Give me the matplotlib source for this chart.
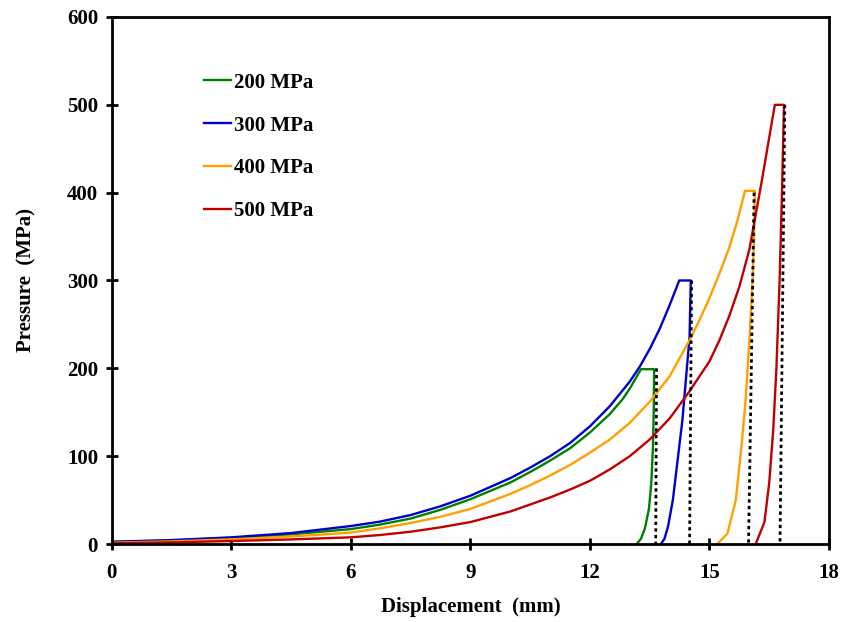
import matplotlib
matplotlib.use("Agg")
import matplotlib.pyplot as plt

# Pressure vs displacement for four target pressures
labels = ['200 MPa', '300 MPa', '400 MPa', '500 MPa']
colors = ['#008000', '#0000CC', '#FFA000', '#C00000']

# loading branch, hold at peak, then unloading branch
disp_200 = [0, 1.5, 3, 4.5, 6, 6.72, 7.5, 8.25, 9, 10, 10.5, 11, 11.5, 12, 12.5, 12.82, 13, 13.28,
            13.61, 13.60, 13.58, 13.54, 13.48, 13.38, 13.28, 13.17]
pres_200 = [2.5, 4, 7, 11, 17, 22, 29, 39, 51, 70, 82, 95, 109, 127, 148, 165, 177, 199,
            199, 150, 110, 70, 40, 18, 6, 0]

disp_300 = [0, 1.5, 3, 4.5, 6, 6.72, 7.5, 8.25, 9, 10, 10.5, 11, 11.5, 12, 12.5, 13, 13.25, 13.5,
            13.75, 14, 14.24,
            14.53, 14.50, 14.32, 14.17, 14.08, 13.96, 13.87, 13.78]
pres_300 = [2.5, 4.5, 7.6, 12.5, 20.5, 25.4, 33, 43, 55, 75, 87, 100, 115, 134, 157, 185, 202, 222,
            245, 272, 300,
            300, 236, 141, 84, 50, 20, 6, 0]

disp_400 = [0, 1.5, 3, 4.5, 6, 6.72, 7.5, 8.25, 9, 10, 10.5, 11, 11.5, 12, 12.5, 13, 13.5, 14, 14.5,
            14.75, 15, 15.25, 15.5, 15.7, 15.89,
            16.14, 16.12, 16.08, 16.0, 15.9, 15.8, 15.66, 15.45, 15.2]
pres_400 = [1.5, 3, 5.3, 8.5, 13, 17.8, 24, 31, 40, 57, 67, 78, 90, 104, 119, 138, 162, 191, 232,
            255, 280, 308, 338, 368, 402,
            402, 350, 300, 230, 160, 110, 50, 12, 0]

disp_500 = [0, 1.5, 3, 4.5, 6, 6.72, 7.5, 8.25, 9, 10, 10.5, 11, 11.5, 12, 12.5, 13, 13.5, 14, 14.5,
            15, 15.25, 15.5, 15.75, 16, 16.3, 16.64,
            16.87, 16.82, 16.76, 16.68, 16.6, 16.5, 16.38, 16.16]
pres_500 = [0.8, 1.8, 3.4, 5.2, 7.6, 10.2, 14, 19, 25, 37, 45, 53, 62, 72, 85, 100, 119, 143, 174,
            208, 232, 260, 293, 335, 410, 500,
            500, 400, 300, 200, 130, 70, 25, 0]

# dotted verticals at the end of each hold
peak = [200, 300, 400, 500]
dot_top = [13.67, 14.55, 16.12, 16.89]
dot_bot = [13.65, 14.50, 15.98, 16.77]

plt.rcParams['font.family'] = ['Liberation Serif', 'DejaVu Serif']
plt.rcParams['font.weight'] = 'bold'

fig = plt.figure(figsize=(8.48, 6.22), dpi=100)
ax = fig.add_axes([0.132, 0.1254, 0.8456, 0.8473])

series = [(disp_200, pres_200), (disp_300, pres_300), (disp_400, pres_400), (disp_500, pres_500)]
for (x, y), c, lab in zip(series, colors, labels):
    ax.plot(x, y, color=c, lw=1.7, label=lab, solid_joinstyle='round')

for p, xt, xb in zip(peak, dot_top, dot_bot):
    ax.plot([xt, xb], [p, 0], color='black', lw=2.0, linestyle=(0, (1.2, 1.2)))

ax.set_xlim(0, 18)
ax.set_ylim(0, 600)
ax.set_xticks(range(0, 19, 3))
ax.set_yticks(range(0, 601, 100))
ax.tick_params(direction='inout', length=8, width=2, labelsize=15)
ax.tick_params(axis='x', pad=10)
ax.tick_params(axis='y', pad=6)
for sp in ax.spines.values():
    sp.set_linewidth(2)

ax.set_xlabel('Displacement  (mm)', fontsize=15, fontweight='bold', labelpad=10)
ax.set_ylabel('Pressure  (MPa)', fontsize=15, fontweight='bold', labelpad=22)

leg = ax.legend(loc='upper left', bbox_to_anchor=(0.102, 0.93), frameon=False,
                fontsize=15, handlelength=1.3, handletextpad=0.15, labelspacing=1.1,
                borderpad=0.4)

fig.savefig('out.png', dpi=100)
